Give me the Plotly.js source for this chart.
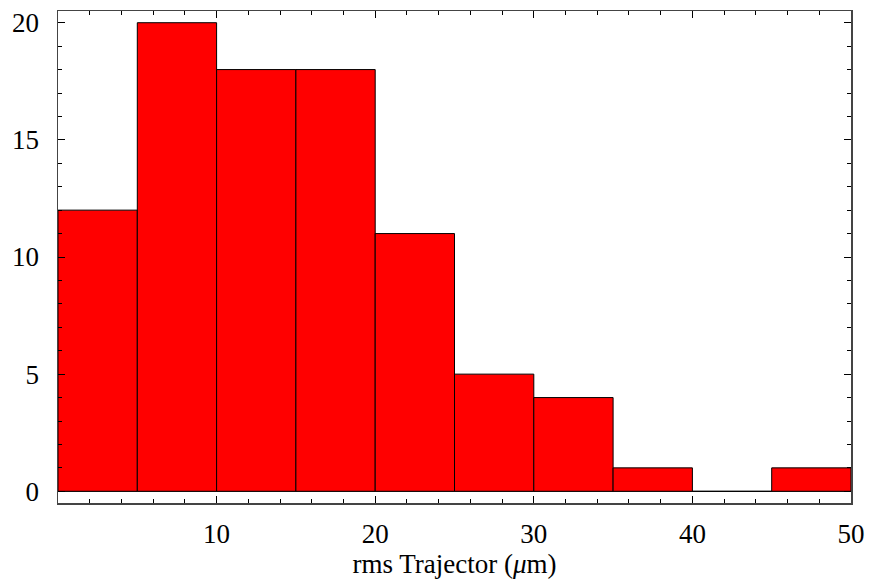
<!DOCTYPE html>
<html>
<head>
<meta charset="utf-8">
<script src="https://cdn.plot.ly/plotly-3.0.1.min.js"></script>
<style>
  html, body { margin: 0; padding: 0; background: #fff; }
  #chart { width: 876px; height: 579px; }
</style>
</head>
<body>
<div id="chart"></div>
<script>
// Histogram of rms trajectory values, 5 µm bins
const binStarts = [0, 5, 10, 15, 20, 25, 30, 35, 40, 45];
const binWidth = 5;
const counts = [12, 20, 18, 18, 11, 5, 4, 1, 0, 1];
const xTickVals = [10, 20, 30, 40, 50];
const yTickVals = [0, 5, 10, 15, 20];
const xTitle = 'rms Trajector (<i>μ</i>m)';

const serif = "'Liberation Serif', 'Times New Roman', serif";

const trace = {
  type: 'bar',
  x: binStarts.map(s => s + binWidth / 2),
  y: counts,
  width: binStarts.map(() => binWidth),
  marker: { color: '#ff0000', line: { color: '#000000', width: 1 } },
  hoverinfo: 'x+y'
};

const layout = {
  width: 876,
  height: 579,
  margin: { l: 57.5, r: 25, t: 11, b: 76 },
  paper_bgcolor: '#ffffff',
  plot_bgcolor: '#ffffff',
  showlegend: false,
  bargap: 0,
  font: { family: serif, size: 27, color: '#000' },
  xaxis: {
    range: [0, 50],
    tickvals: xTickVals,
    ticks: 'inside',
    ticklen: 7,
    tickwidth: 1,
    tickcolor: '#000',
    showline: true,
    linecolor: '#444',
    linewidth: 1.5,
    mirror: 'ticks',
    showgrid: false,
    zeroline: false,
    minor: { dtick: 2, tick0: 0, ticks: 'inside', ticklen: 4, tickcolor: '#000', showgrid: false },
    tickfont: { family: serif, size: 27, color: '#000' },
    ticklabelstandoff: 6,
    title: { text: xTitle, font: { family: serif, size: 27, color: '#000' }, standoff: 4 }
  },
  yaxis: {
    range: [-0.5, 20.5],
    tickvals: yTickVals,
    ticks: 'inside',
    ticklen: 7,
    tickwidth: 1,
    tickcolor: '#000',
    showline: true,
    linecolor: '#444',
    linewidth: 1.5,
    mirror: 'ticks',
    showgrid: false,
    zeroline: true,
    zerolinecolor: '#444',
    zerolinewidth: 1,
    minor: { dtick: 1, tick0: 0, ticks: 'inside', ticklen: 4, tickcolor: '#000', showgrid: false },
    tickfont: { family: serif, size: 27, color: '#000' },
    ticklabelstandoff: 12
  }
};

Plotly.newPlot('chart', [trace], layout, { staticPlot: true, displayModeBar: false });
</script>
</body>
</html>
